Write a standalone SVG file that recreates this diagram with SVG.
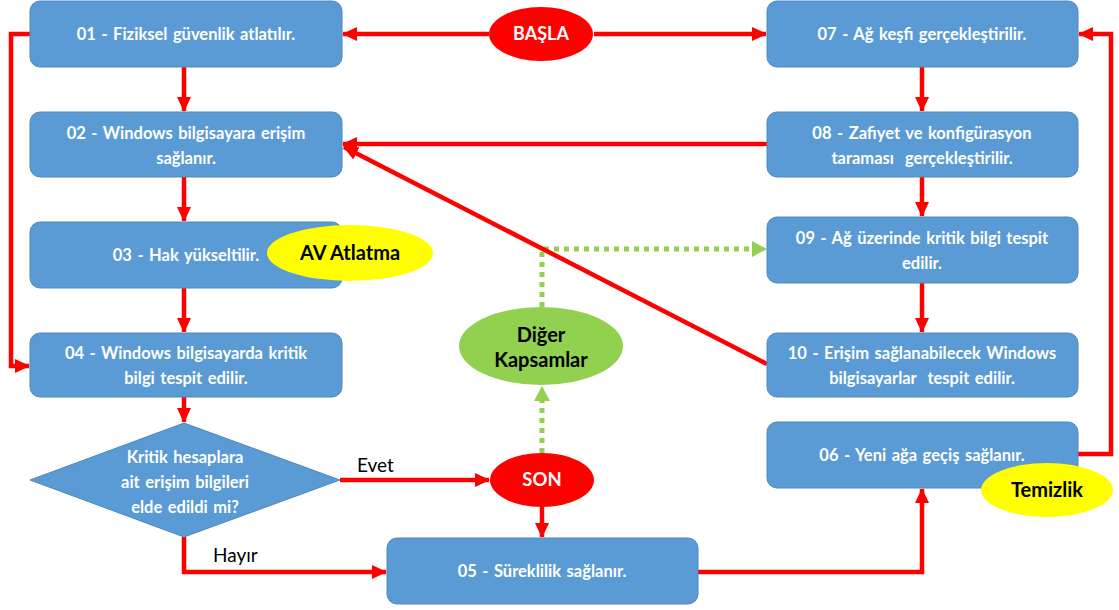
<svg xmlns="http://www.w3.org/2000/svg" width="1119" height="610" viewBox="0 0 1119 610">
<defs>
<style>
.box{fill:#5B9BD5;stroke:#4F88BC;stroke-width:1}
.t{font-family:Lato,"Liberation Sans",sans-serif;font-weight:bold;font-size:16.5px;word-spacing:1.5px;fill:#fff;text-anchor:middle}
.k{font-family:Lato,"Liberation Sans",sans-serif;font-weight:bold;font-size:20px;fill:#000;text-anchor:middle}
.lbl{font-family:Lato,"Liberation Sans",sans-serif;font-size:19px;fill:#000}
.r{fill:none;stroke:#FF0000;stroke-width:4.5;marker-end:url(#ar)}
.g{fill:none;stroke:#92D050;stroke-width:5;stroke-dasharray:5 5}
</style>
<marker id="ar" markerWidth="16" markerHeight="16" refX="14" refY="8" orient="auto" markerUnits="userSpaceOnUse">
<path d="M0,1 L15,8 L0,15 Z" fill="#FF0000"/>
</marker>
</defs>
<rect width="1119" height="610" fill="#fff"/>
<g id="connectors">
<path class="g" d="M542,453 V392"/>
<path d="M534,401 L542,386 L550,401 Z" fill="#92D050"/>
<path class="g" d="M542,307 V249 H752"/>
<path d="M752,241 L767,249 L752,257 Z" fill="#92D050"/>
<path class="r" d="M489,34 H343"/>
<path class="r" d="M594,34 H766"/>
<path class="r" d="M30,34 H11 V366 H29"/>
<path class="r" d="M184,67 V111"/>
<path class="r" d="M184,177 V221"/>
<path class="r" d="M184,288 V332"/>
<path class="r" d="M184,397 V422"/>
<path class="r" d="M767,144 H343"/>
<path class="r" d="M767,364 L344,147"/>
<path class="r" d="M922,67 V111"/>
<path class="r" d="M922,177 V216"/>
<path class="r" d="M922,283 V332"/>
<path class="r" d="M1078,454 H1111 V34 H1079"/>
<path class="r" d="M340,480 H489"/>
<path class="r" d="M184,537 V572 H386"/>
<path class="r" d="M542,507 V537"/>
<path class="r" d="M698,572 H922 V489"/>
<text class="lbl" x="357" y="472">Evet</text>
<text class="lbl" x="213" y="562">Hayır</text>
</g>
<g id="n01"><rect class="box" x="30" y="1" width="312" height="66" rx="10"/><text class="t" x="186" y="40">01 - Fiziksel güvenlik atlatılır.</text></g>
<g id="n02"><rect class="box" x="30" y="112" width="312" height="65" rx="10"/><text class="t" x="186" y="139">02 - Windows bilgisayara erişim</text><text class="t" x="186" y="164">sağlanır.</text></g>
<g id="n03"><rect class="box" x="30" y="222" width="312" height="66" rx="10"/><text class="t" x="186" y="261">03 - Hak yükseltilir.</text></g>
<g id="n04"><rect class="box" x="30" y="333" width="312" height="64" rx="10"/><text class="t" x="186" y="359">04 - Windows bilgisayarda kritik</text><text class="t" x="186" y="384">bilgi tespit edilir.</text></g>
<g id="decision"><path d="M184,423 L340,480 L184,537 L30,480 Z" fill="#5B9BD5" stroke="#4F88BC"/><text class="t" x="185" y="463">Kritik hesaplara</text><text class="t" x="185" y="488">ait erişim bilgileri</text><text class="t" x="185" y="513">elde edildi mi?</text></g>
<g id="n05"><rect class="box" x="387" y="538" width="311" height="66" rx="10"/><text class="t" x="542" y="577">05 - Süreklilik sağlanır.</text></g>
<g id="n06"><rect class="box" x="767" y="422" width="311" height="66" rx="10"/><text class="t" x="922" y="461">06 - Yeni ağa geçiş sağlanır.</text></g>
<g id="n07"><rect class="box" x="767" y="1" width="311" height="66" rx="10"/><text class="t" x="922" y="40">07 - Ağ keşfi gerçekleştirilir.</text></g>
<g id="n08"><rect class="box" x="767" y="112" width="311" height="65" rx="10"/><text class="t" x="922" y="139">08 - Zafiyet ve konfigürasyon</text><text class="t" x="922" y="164" xml:space="preserve">taraması  gerçekleştirilir.</text></g>
<g id="n09"><rect class="box" x="767" y="217" width="311" height="66" rx="10"/><text class="t" x="922" y="244">09 - Ağ üzerinde kritik bilgi tespit</text><text class="t" x="922" y="269">edilir.</text></g>
<g id="n10"><rect class="box" x="767" y="333" width="311" height="64" rx="10"/><text class="t" x="922" y="359">10 - Erişim sağlanabilecek Windows</text><text class="t" x="922" y="384" xml:space="preserve">bilgisayarlar  tespit edilir.</text></g>
<g id="basla"><ellipse cx="541" cy="34" rx="52" ry="27" fill="#FF0000"/><text class="t" x="541" y="40" style="font-size:18px">BAŞLA</text></g>
<g id="son"><ellipse cx="542" cy="480" rx="52" ry="27" fill="#FF0000"/><text class="t" x="542" y="486" style="font-size:18.5px">SON</text></g>
<g id="av"><ellipse cx="350" cy="253" rx="83" ry="28" fill="#FFFF00"/><text class="k" x="350" y="260">AV Atlatma</text></g>
<g id="temizlik"><ellipse cx="1047" cy="490" rx="66" ry="27" fill="#FFFF00"/><text class="k" x="1047" y="497">Temizlik</text></g>
<g id="diger"><ellipse cx="541" cy="346" rx="82" ry="39" fill="#92D050"/><text class="k" x="541" y="342">Diğer</text><text class="k" x="541" y="367">Kapsamlar</text></g>
</svg>
